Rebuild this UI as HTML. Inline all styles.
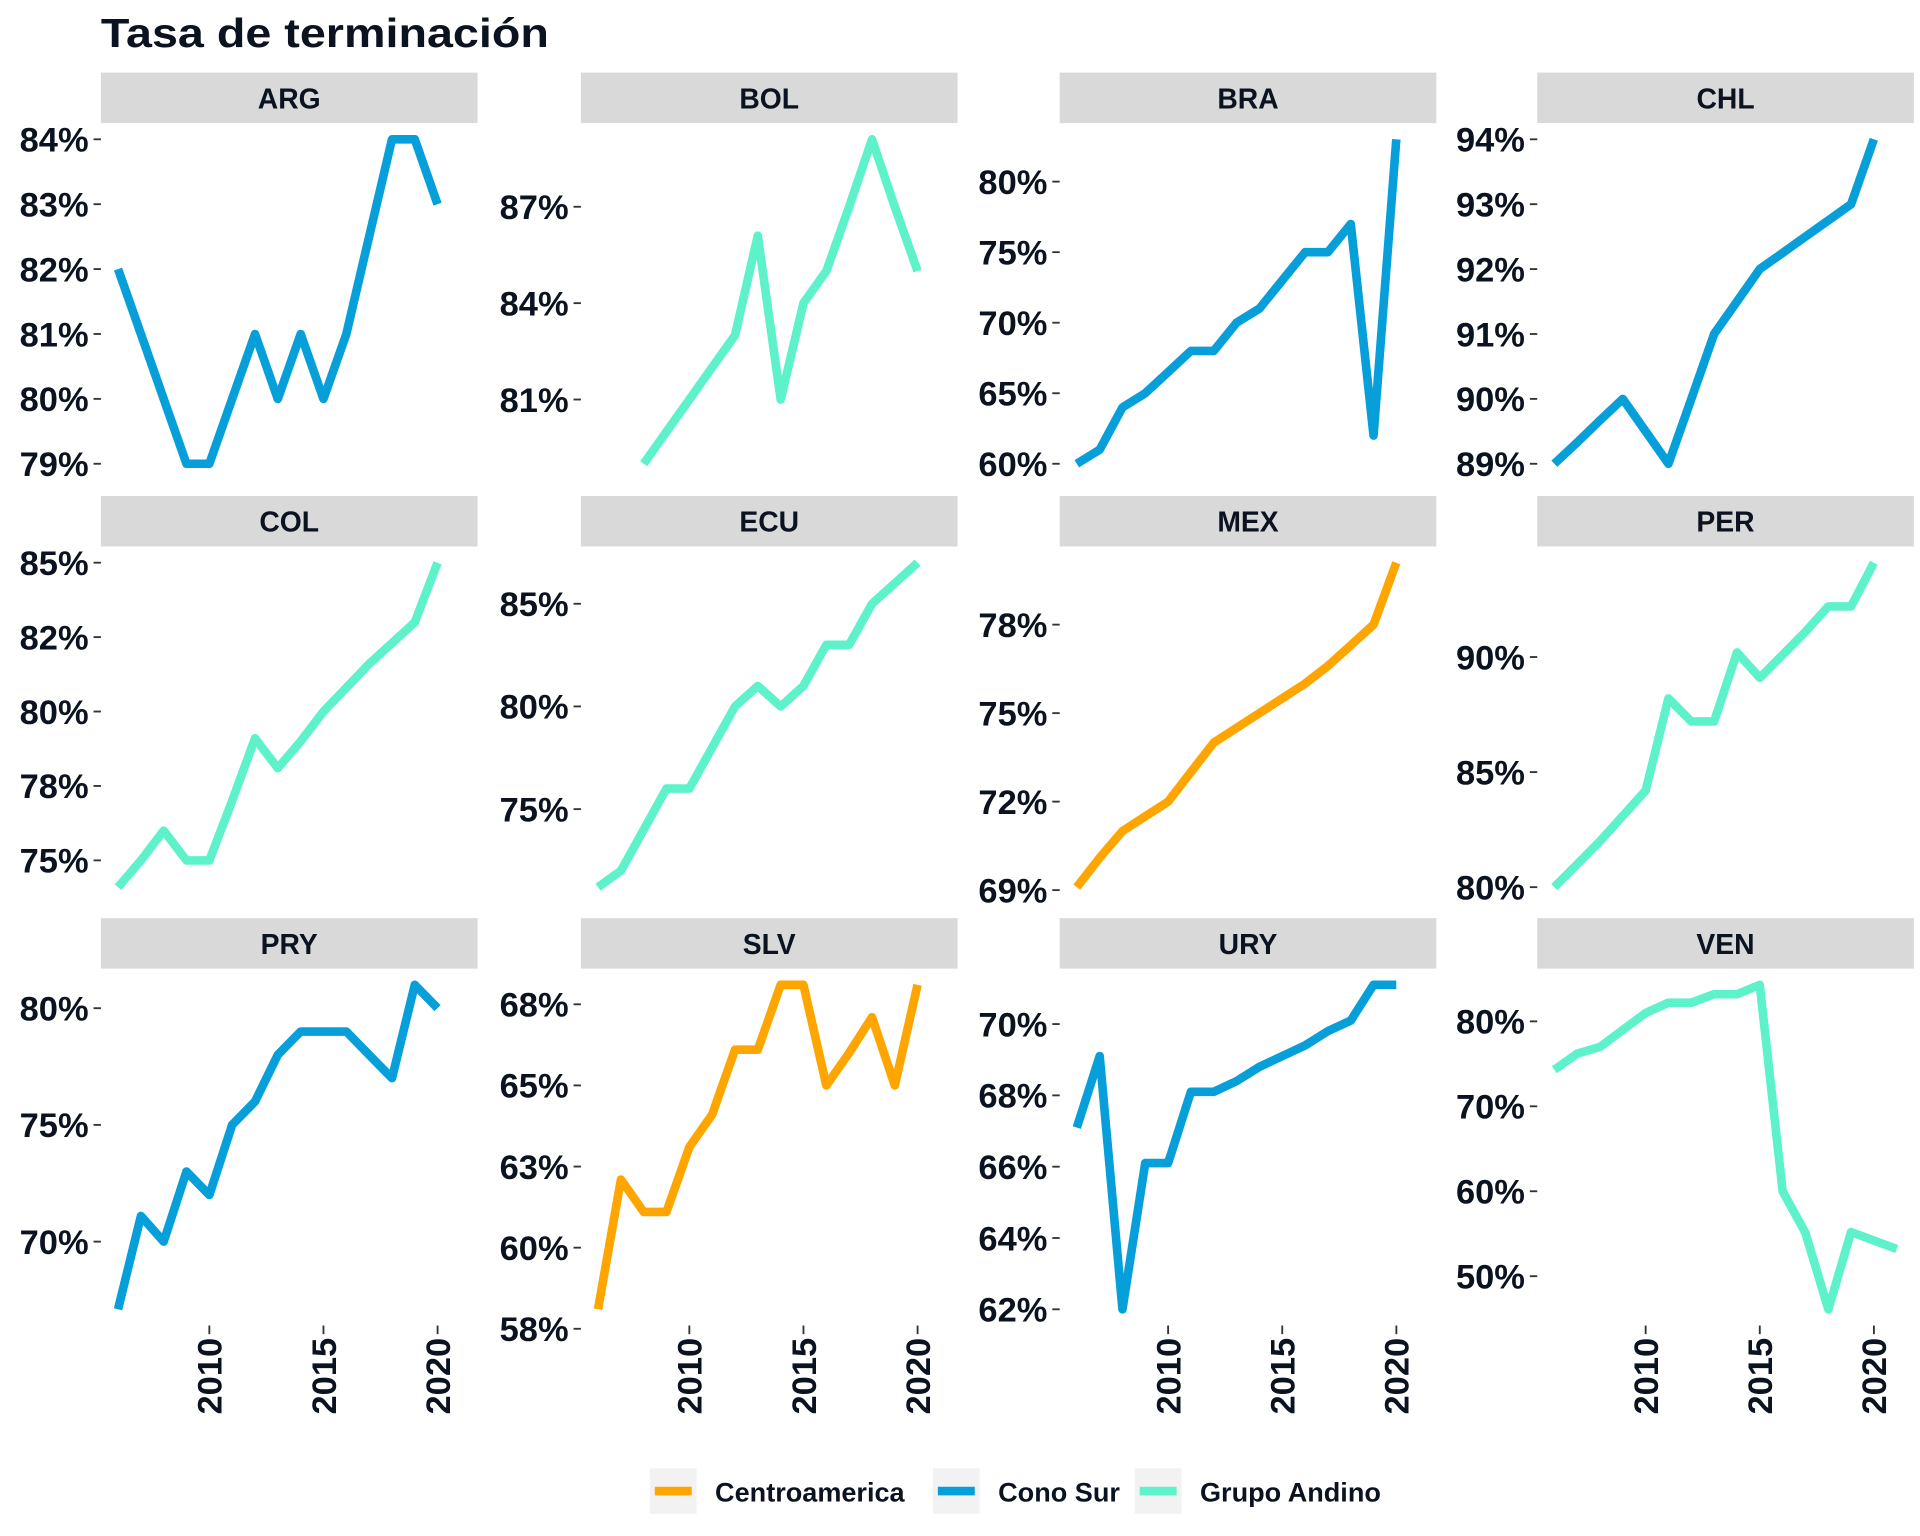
<!DOCTYPE html>
<html><head><meta charset="utf-8"><style>
html,body{margin:0;padding:0;background:#fff;width:1920px;height:1536px;overflow:hidden}
svg{display:block}
text{font-family:"Liberation Sans",sans-serif;fill:#0b1220}
</style></head><body>
<svg id="chart" width="1920" height="1536" viewBox="0 0 1560 1248" preserveAspectRatio="none" xmlns="http://www.w3.org/2000/svg">
<text x="82" y="38" font-size="33" font-weight="bold" textLength="364" lengthAdjust="spacingAndGlyphs">Tasa de terminación</text>
<g id="panels"></g>
<g id="legend"></g>
</svg>
<script>
const years = [2006,2007,2008,2009,2010,2011,2012,2013,2014,2015,2016,2017,2018,2019,2020,2021];
const countries = ["ARG","BOL","BRA","CHL","COL","ECU","MEX","PER","PRY","SLV","URY","VEN"];
const regions = ["Cono Sur","Grupo Andino","Cono Sur","Cono Sur","Grupo Andino","Grupo Andino","Centroamerica","Grupo Andino","Cono Sur","Centroamerica","Cono Sur","Grupo Andino"];
const valARG = [82,81,80,79,79,80,81,80,81,80,81,82.5,84,84,83,null];
const valBOL = [null,null,79,80,81,82,83,86.1,81,84,85,87,89.1,87,85,null];
const valBRA = [60,61,64,65,66.5,68,68,70,71,73,75,75,77,62,83,null];
const valCHL = [89,89.33,89.67,90,89.5,89,90,91,91.5,92,92.25,92.5,92.75,93,94,null];
const valCOL = [74.1,75,76,75,75,77,79.1,78.1,79,80,80.8,81.6,82.3,83,85,null];
const valECU = [71.2,72,74,76,76,78,80,81,80,81,83,83,85,86,87,null];
const valMEX = [69.1,70.1,71,71.5,72,73,74,74.5,75,75.5,76,76.6,77.3,78,80.1,null];
const valPER = [80,81,82,83.1,84.2,88.2,87.2,87.2,90.2,89.1,90.1,91.1,92.2,92.2,94.1,null];
const valPRY = [67.1,71.1,70,73,72,75,76,78,79,79,79,78,77,81,80,null];
const valSLV = [58.1,62.1,61.1,61.1,63.1,64.1,66.1,66.1,68.1,68.1,65,66,67.1,65,68.1,null];
const valURY = [67.1,69.1,62,66.1,66.1,68.1,68.1,68.4,68.8,69.1,69.4,69.8,70.1,71.1,71.1,null];
const valVEN = [74.3,76.2,77,79,81,82.2,82.2,83.2,83.2,84.3,60,55.1,46.1,55.2,54.2,53.2];
const seriesValues = [valARG,valBOL,valBRA,valCHL,valCOL,valECU,valMEX,valPER,valPRY,valSLV,valURY,valVEN];
const tickVals = [[79,80,81,82,83,84],[81,84,87],[60,65,70,75,80],[89,90,91,92,93,94],[75,77.5,80,82.5,85],[75,80,85],[69,72,75,78],[80,85,90],[70,75,80],[57.5,60,62.5,65,67.5],[62,64,66,68,70],[50,60,70,80]];
const tickLabels = [["79%","80%","81%","82%","83%","84%"],["81%","84%","87%"],["60%","65%","70%","75%","80%"],["89%","90%","91%","92%","93%","94%"],["75%","78%","80%","82%","85%"],["75%","80%","85%"],["69%","72%","75%","78%"],["80%","85%","90%"],["70%","75%","80%"],["58%","60%","63%","65%","68%"],["62%","64%","66%","68%","70%"],["50%","60%","70%","80%"]];
const xTicks = [2010,2015,2020];
const legendLabels = ["Centroamerica","Cono Sur","Grupo Andino"];
const colors = {"Centroamerica":"#FFA500","Cono Sur":"#069FD9","Grupo Andino":"#5EF2CB"};

const NS="http://www.w3.org/2000/svg";
const colX=[82,472,861,1249], stripTop=[59,403,746], PW=306, SH=41, PH=290;
function mk(tag,attrs,parent){const e=document.createElementNS(NS,tag);for(const k in attrs)e.setAttribute(k,attrs[k]);parent.appendChild(e);return e;}
const xMin=2005.25,xMax=2021.75;
const panels=document.getElementById('panels');
countries.forEach((c,i)=>{
  const col=i%4,row=Math.floor(i/4);
  const x0=colX[col],st=stripTop[row],py=st+SH;
  const g=mk('g',{},panels);
  
  
  const sr=mk('rect',{x:x0,y:st,width:PW,height:SH,fill:'#D9D9D9'},g);
  
  
  const stx=mk('text',{x:x0+PW/2,y:st+29,'font-size':23,'font-weight':'bold','text-anchor':'middle',fill:'#222'},g);
  stx.textContent=c;
  
  
  const vals=seriesValues[i].filter(v=>v!==null);
  const mn=Math.min(...vals),mx=Math.max(...vals),pad=(mx-mn)*0.05;
  const ys=v=>py+PH-(v-(mn-pad))/((mx+pad)-(mn-pad))*PH;
  const xs=yr=>x0+(yr-xMin)/(xMax-xMin)*PW;
  tickVals[i].forEach((tv,j)=>{
    const y=ys(tv);
    mk('line',{x1:x0-6,x2:x0,y1:y,y2:y,stroke:'#333','stroke-width':1.5},g);
    const t=mk('text',{x:x0-10,y:y+10,'font-size':28,'font-weight':'bold','text-anchor':'end'},g);
    t.textContent=tickLabels[i][j];
    
    
  });
  if(row===2){
    xTicks.forEach(yr=>{
      const x=xs(yr),y=py+PH;
      mk('line',{x1:x,x2:x,y1:y,y2:y+7,stroke:'#333','stroke-width':1.5},g);
      const t=mk('text',{x:0,y:0,'font-size':28,'font-weight':'bold','text-anchor':'end',transform:`translate(${x+10},${y+10}) rotate(-90)`},g);
      t.textContent=yr;
      
      
    });
  }
  let d='';
  seriesValues[i].forEach((v,k)=>{if(v===null)return;d+=(d?'L':'M')+xs(years[k]).toFixed(1)+','+ys(v).toFixed(1);});
  const p=mk('path',{d:d,fill:'none',stroke:colors[regions[i]],'stroke-width':7,'stroke-linejoin':'round'},g);
  
  
});
const lg=document.getElementById('legend');
const keyX=[528,758,922];
legendLabels.forEach((l,i)=>{
  const r=mk('rect',{x:keyX[i],y:1193,width:38,height:37,fill:'#F2F2F2'},lg);
  
  
  mk('line',{x1:keyX[i]+4,x2:keyX[i]+34,y1:1211.5,y2:1211.5,stroke:colors[l],'stroke-width':7},lg);
  const t=mk('text',{x:keyX[i]+53,y:1220,'font-size':22,'font-weight':'bold'},lg);
  t.textContent=l;
  
  
});
</script>
</body></html>
